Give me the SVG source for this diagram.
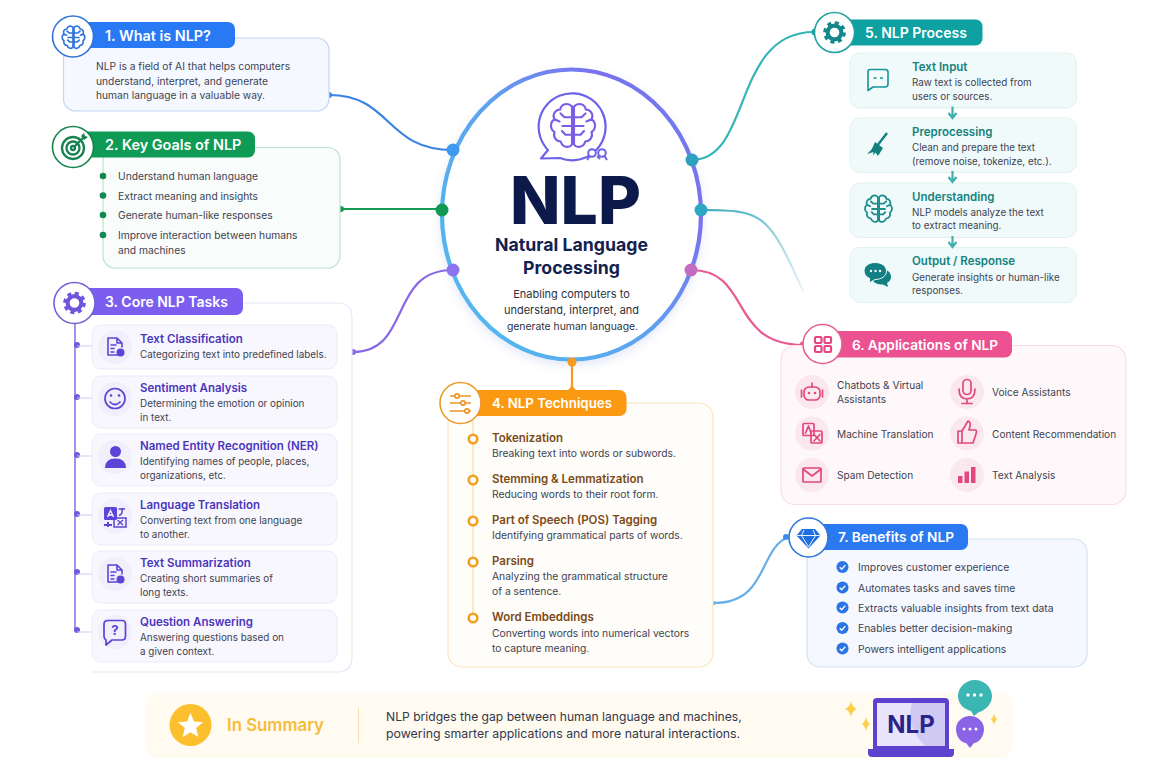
<svg xmlns="http://www.w3.org/2000/svg" width="1160" height="773" viewBox="0 0 1160 773">
<style>
text{font-family:"Inter","Noto Sans","Liberation Sans",sans-serif}
.b{font-size:10.250px;fill:#3d4352}
.h{font-size:14px;font-weight:600;fill:#fff}
.t3,.t4,.t5{font-size:11.500px;font-weight:600}
.t3{fill:#4a36bd}
.t4{fill:#7b4a17}
.t5{fill:#14827e}
.c{fill:#fff;stroke-width:1.600}
.sub3{fill:#f8f7fe;stroke:#eceaf8}
.sub5{fill:#f0fafa;stroke:#e0f1f0}
.ic6{fill:#fbe8ef}
.ic3{fill:#f1effb}
.conn{fill:none;stroke-width:2.200;stroke-linecap:round}
#node1 .h,#node2 .h{font-size:14.400px}
#node3 .b{font-size:9.900px}
#node4 .h{font-size:13.300px}
#node4 .b{font-size:10.300px}
#node5 .b{font-size:9.800px}
#node6 .b{font-size:10.150px}
#node6 .h,#node7 .h{font-size:13.700px}
#node7 .b{font-size:10.350px}
</style>
<defs>
<linearGradient id="ring" gradientUnits="userSpaceOnUse" x1="450" y1="270" x2="680" y2="110"><stop offset="0" stop-color="#52b6ee"/><stop offset="0.45" stop-color="#5fa2ef"/><stop offset="0.85" stop-color="#7a70ee"/><stop offset="1" stop-color="#6f7cec"/></linearGradient>
<linearGradient id="fade" gradientUnits="userSpaceOnUse" x1="701" y1="210" x2="803" y2="292"><stop offset="0" stop-color="#2fa6b8"/><stop offset="1" stop-color="#2fa6b8" stop-opacity="0.1"/></linearGradient>
<filter id="soft" x="-20%" y="-20%" width="140%" height="140%"><feDropShadow dx="0" dy="4" stdDeviation="5" flood-color="#5b6fd0" flood-opacity="0.16"/></filter>
<symbol id="brain" viewBox="0 0 24 24"><g fill="none" stroke="currentColor" stroke-linejoin="round" stroke-linecap="round"><path d="M11.600 4.200C10 2.400 7.200 3.200 6.900 5.400C4.800 5.400 3.600 7.600 4.600 9.300C2.700 10.500 2.800 13.300 4.600 14.400C3.900 16.400 5.300 18.200 7.100 18.200C7.700 20.600 10.600 21 11.600 19.400ZM11.600 8.500H8.600L7 7M11.600 12H7.800M4.600 9.300L6.600 10.200M11.600 15.500H9L7.600 14"/><path transform="matrix(-1 0 0 1 24 0)" d="M11.600 4.200C10 2.400 7.200 3.200 6.900 5.400C4.800 5.400 3.600 7.600 4.600 9.300C2.700 10.500 2.800 13.300 4.600 14.400C3.900 16.400 5.300 18.200 7.100 18.200C7.700 20.600 10.600 21 11.600 19.400ZM11.600 8.500H8.600L7 7M11.600 12H7.800M4.600 9.300L6.600 10.200M11.600 15.500H9L7.600 14"/></g></symbol>
<symbol id="gear" viewBox="0 0 24 24"><circle cx="12" cy="12" r="6.600" fill="none" stroke="currentColor" stroke-width="4"/><circle cx="12" cy="12" r="9.400" fill="none" stroke="currentColor" stroke-width="3" stroke-dasharray="3.900 3.480"/></symbol>
<symbol id="doc" viewBox="0 0 24 24"><g fill="none" stroke="currentColor" stroke-width="1.600" stroke-linejoin="round" stroke-linecap="round"><path d="M14 20H5V3H14L19 8V12M14 3V8H19M8 10H13M8 13.500H11M8 17H11"/></g><circle cx="17.500" cy="17.500" r="4" fill="currentColor"/></symbol>
<symbol id="chk" viewBox="0 0 14 14"><circle cx="7" cy="7" r="6.500" fill="#2a74e6"/><path d="M4 7.200L6.200 9.300L10 5" fill="none" stroke="#fff" stroke-width="1.500"/></symbol>
<symbol id="trans" viewBox="0 0 24 24"><rect x="1" y="2" width="13" height="13" rx="1.500" fill="currentColor"/><path d="M4.500 12L7.500 5.500L10.500 12M5.500 10H9.500" fill="none" stroke="#fff" stroke-width="1.300"/><path d="M15.500 4H22M19 3V7C19 9 17.500 10 16 10.500" fill="none" stroke="currentColor" stroke-width="1.500"/><rect x="11" y="13" width="12" height="9" fill="none" stroke="currentColor" stroke-width="1.500"/><path d="M14.500 15L20 20M20 15L14.500 20" stroke="currentColor" stroke-width="1.300"/><path d="M1 20H9M5 17V22" stroke="currentColor" stroke-width="2"/></symbol>
</defs>
<rect width="1160" height="773" fill="#ffffff"/>

<g id="connectors">
<path class="conn" stroke="#3a82e6" d="M329 95C392 95 385 150 453 150"/>
<path class="conn" stroke="#149a55" d="M340 209H442"/>
<path class="conn" stroke="#8a68ea" d="M353 352C412 352 388 270 453 270"/>
<path class="conn" stroke="#f79a1e" stroke-width="2.600" d="M572 362V390"/>
<path d="M566 391Q570 389 572 385Q574 389 578 391Z" fill="#f79a1e"/>
<path class="conn" stroke="#37b4b6" d="M692 160C752 160 732 32 814 32"/>
<path class="conn" stroke="url(#fade)" d="M701 210C762 210 768 212 803 291"/>
<path class="conn" stroke="#ea5b94" d="M691 270C752 270 728 345 803 345"/>
<path class="conn" stroke="#68aee8" d="M714 603C768 603 758 550 788 537"/>
<circle cx="329" cy="95" r="3" fill="#3a82e6"/><circle cx="341" cy="209" r="3" fill="#149a55"/><circle cx="353" cy="352" r="3" fill="#8a68ea"/><circle cx="714" cy="603" r="2" fill="#68aee8"/>
<circle cx="815" cy="32" r="3.500" fill="#1ea3a3"/><circle cx="803" cy="345" r="3.500" fill="#ea5b94"/><circle cx="786" cy="537" r="3" fill="#3f8be8"/>
</g>

<g id="center">
<ellipse cx="571.500" cy="214.500" rx="129.500" ry="145" fill="#fff" stroke="url(#ring)" stroke-width="4.200" filter="url(#soft)"/>
<circle cx="453" cy="150" r="6.500" fill="#3f9bee"/><circle cx="442" cy="210" r="6.500" fill="#129a52"/><circle cx="453" cy="270" r="6.500" fill="#8d73ee"/><circle cx="692" cy="160" r="6.500" fill="#2da2c0"/><circle cx="701" cy="210" r="6.500" fill="#2fa6c6"/><circle cx="691" cy="270" r="6.500" fill="#c36cc0"/><circle cx="572" cy="362" r="4.500" fill="#f79a1e"/>
<path d="M548 150L541 158.500L560 158A33.500 33.500 0 1 0 548 150Z" fill="#fff" stroke="#6d63e6" stroke-width="2.200" stroke-linejoin="round"/>
<use href="#brain" x="543" y="96" width="60" height="60" color="#7a5ce6" stroke-width="0.850"/>
<g fill="#fff" stroke="#6d63e6" stroke-width="2"><circle cx="592" cy="153" r="3.800"/><circle cx="602" cy="153" r="3.800"/><path d="M587 160L590 156M597 156L600 159M604.500 156L607 160" fill="none"/></g>
<text x="575.500" y="223.500" text-anchor="middle" style="font-size:66px;font-weight:800;fill:#0b1a4b">NLP</text>
<text x="571.500" y="251" text-anchor="middle" style="font-size:17.700px;font-weight:700;fill:#13214f">Natural Language</text>
<text x="571.500" y="274" text-anchor="middle" style="font-size:17.700px;font-weight:700;fill:#13214f">Processing</text>
<text x="571.500" y="298" text-anchor="middle" style="font-size:11px;fill:#2c3140">Enabling computers to</text>
<text x="571.500" y="314" text-anchor="middle" style="font-size:11px;fill:#2c3140">understand, interpret, and</text>
<text x="572.500" y="330" text-anchor="middle" style="font-size:10.400px;fill:#2c3140">generate human language.</text>
</g>

<g id="node1">
<rect x="63.500" y="38" width="265.500" height="73" rx="12" fill="#f5f8ff" stroke="#c5d5f5" stroke-width="1.200"/>
<rect x="80" y="22" width="155" height="26" rx="7" fill="#2979f5"/>
<circle class="c" cx="73" cy="36.500" r="20.500" stroke="#2f74d8"/>
<use href="#brain" x="58" y="22" width="31" height="31" color="#2f74d8" stroke-width="1.300"/>
<text class="h" x="105" y="41">1. What is NLP?</text>
<text class="b" x="96" y="70">NLP is a field of AI that helps computers</text>
<text class="b" x="96" y="84.500">understand, interpret, and generate</text>
<text class="b" x="96" y="99">human language in a valuable way.</text>
</g>

<g id="node2">
<rect x="103" y="147.500" width="237" height="120.500" rx="12" fill="#f8fcfa" stroke="#bde4cb" stroke-width="1.200"/>
<rect x="80" y="131.500" width="175" height="26" rx="7" fill="#0f9a55"/>
<circle class="c" cx="73" cy="147" r="20.500" stroke="#16834f"/>
<g fill="none" stroke="#16834f" stroke-width="2.300"><circle cx="73" cy="148" r="11"/><circle cx="73" cy="148" r="6.500"/><circle cx="73" cy="148" r="2"/><path d="M74 147L83 138"/></g>
<path d="M81 136L84 133L85 136L88 137L84 140Z" fill="#16834f"/>
<text class="h" x="105" y="150">2. Key Goals of NLP</text>
<g fill="#118a50"><circle cx="103" cy="176" r="3.300"/><circle cx="103" cy="195.500" r="3.300"/><circle cx="103" cy="215" r="3.300"/><circle cx="103" cy="235" r="3.300"/></g>
<text class="b" x="118" y="180">Understand human language</text>
<text class="b" x="118" y="199.500">Extract meaning and insights</text>
<text class="b" x="118" y="219">Generate human-like responses</text>
<text class="b" x="118" y="239">Improve interaction between humans</text>
<text class="b" x="118" y="254">and machines</text>
</g>

<g id="node3">
<path d="M235 303H337Q352 303 352 318V657Q352 672 337 672H92" fill="#fff" stroke="#e8e6f8" stroke-width="1.200"/>
<path d="M75 320V630" stroke="#9a87ec" stroke-width="1.800"/>
<rect x="80" y="288" width="163" height="27" rx="7" fill="#7b5ef0"/>
<circle class="c" cx="74.500" cy="303" r="20.500" stroke="#7660da"/>
<use href="#gear" x="62" y="290.500" width="25" height="25" color="#6f55dd"/>
<text class="h" x="105" y="306.500">3. Core NLP Tasks</text>
<g fill="#7159dc"><circle cx="77" cy="345" r="3"/><circle cx="77" cy="397" r="3"/><circle cx="77" cy="455" r="3"/><circle cx="77" cy="514" r="3"/><circle cx="77" cy="572" r="3"/><circle cx="77" cy="630" r="3"/></g>
<path d="M77 346H92M77 398H92M77 456H92M77 515H92M77 574H92M77 632H92" stroke="#cfc8f2"/>
<g stroke-width="1">
<rect class="sub3" x="92" y="325" width="245" height="44" rx="9"/>
<rect class="sub3" x="92" y="376" width="245" height="52" rx="9"/>
<rect class="sub3" x="92" y="434" width="245" height="52" rx="9"/>
<rect class="sub3" x="92" y="493" width="245" height="52" rx="9"/>
<rect class="sub3" x="92" y="551" width="245" height="52" rx="9"/>
<rect class="sub3" x="92" y="610" width="245" height="52" rx="9"/>
</g>
<g class="ic3"><circle cx="115" cy="347" r="17"/><circle cx="115" cy="399" r="17"/><circle cx="115" cy="457" r="17"/><circle cx="115" cy="516" r="17"/><circle cx="115" cy="574" r="17"/><circle cx="115" cy="632" r="17"/></g>
<use href="#doc" x="103" y="335" width="24" height="24" color="#5b45d6"/>
<g fill="none" stroke="#5b45d6" stroke-width="1.700" stroke-linecap="round"><circle cx="115" cy="398.500" r="10"/><path d="M110 402Q115 407 120 402"/></g><circle cx="111" cy="395.500" r="1.300" fill="#5b45d6"/><circle cx="119" cy="395.500" r="1.300" fill="#5b45d6"/>
<circle cx="115.500" cy="451.500" r="5.500" fill="#5b45d6"/><path d="M105 468Q105 458.500 115.500 458.500Q126 458.500 126 468Z" fill="#5b45d6"/>
<use href="#trans" x="103" y="505" width="24" height="24" color="#5b45d6"/>
<use href="#doc" x="103" y="562" width="24" height="24" color="#5b45d6"/>
<path d="M108 620.500H122Q125.500 620.500 125.500 624V636Q125.500 640 122 640H112L106 645V640Q104 639 104 636V624Q104 620.500 108 620.500Z" fill="none" stroke="#5b45d6" stroke-width="1.700" stroke-linejoin="round"/>
<text x="115" y="634.500" text-anchor="middle" style="font-size:13px;font-weight:700;fill:#5b45d6">?</text>
<text class="t3" x="140" y="343">Text Classification</text><text class="b" x="140" y="358">Categorizing text into predefined labels.</text>
<text class="t3" x="140" y="392">Sentiment Analysis</text><text class="b" x="140" y="407">Determining the emotion or opinion</text><text class="b" x="140" y="421">in text.</text>
<text class="t3" x="140" y="450">Named Entity Recognition (NER)</text><text class="b" x="140" y="465">Identifying names of people, places,</text><text class="b" x="140" y="479">organizations, etc.</text>
<text class="t3" x="140" y="509">Language Translation</text><text class="b" x="140" y="524">Converting text from one language</text><text class="b" x="140" y="538">to another.</text>
<text class="t3" x="140" y="567">Text Summarization</text><text class="b" x="140" y="582">Creating short summaries of</text><text class="b" x="140" y="596">long texts.</text>
<text class="t3" x="140" y="626">Question Answering</text><text class="b" x="140" y="641">Answering questions based on</text><text class="b" x="140" y="655">a given context.</text>
</g>

<g id="node4">
<rect x="448" y="403" width="265" height="264" rx="14" fill="#fffdf9" stroke="#fbe4bd" stroke-width="1.200"/>
<path d="M473 420V615" stroke="#fbe2b4" stroke-width="1.500"/>
<rect x="470" y="390" width="156.500" height="26" rx="7" fill="#fb9a12"/>
<circle class="c" cx="460.500" cy="403" r="20.500" stroke="#ee9a26"/>
<g fill="none" stroke="#ee9424" stroke-width="1.700"><path d="M450 396H471M450 403H471M450 411H471"/><circle cx="457" cy="396" r="2.200" fill="#fff"/><circle cx="463" cy="403" r="2.200" fill="#fff"/><circle cx="467" cy="411" r="2.200" fill="#fff"/></g>
<text class="h" x="492" y="408">4. NLP Techniques</text>
<g fill="#fff" stroke="#f4a01e" stroke-width="2.600"><circle cx="473" cy="439" r="4.300"/><circle cx="473" cy="480" r="4.300"/><circle cx="473" cy="521" r="4.300"/><circle cx="473" cy="562" r="4.300"/><circle cx="473" cy="618" r="4.300"/></g>
<text class="t4" x="492" y="441.500">Tokenization</text><text class="b" x="492" y="457">Breaking text into words or subwords.</text>
<text class="t4" x="492" y="483">Stemming &amp; Lemmatization</text><text class="b" x="492" y="498">Reducing words to their root form.</text>
<text class="t4" x="492" y="524">Part of Speech (POS) Tagging</text><text class="b" x="492" y="539">Identifying grammatical parts of words.</text>
<text class="t4" x="492" y="565">Parsing</text><text class="b" x="492" y="580">Analyzing the grammatical structure</text><text class="b" x="492" y="595">of a sentence.</text>
<text class="t4" x="492" y="621">Word Embeddings</text><text class="b" x="492" y="636.500">Converting words into numerical vectors</text><text class="b" x="492" y="652">to capture meaning.</text>
</g>

<g id="node5">
<rect x="840" y="19.500" width="142.500" height="26" rx="7" fill="#0fa0a2"/>
<circle class="c" cx="834.500" cy="32.500" r="20" stroke="#22a3a3"/>
<use href="#gear" x="822" y="20" width="25" height="25" color="#13878a"/>
<text class="h" x="865" y="37.500">5. NLP Process</text>
<g stroke-width="1"><rect class="sub5" x="850" y="53" width="226.500" height="55" rx="10"/><rect class="sub5" x="850" y="118" width="226.500" height="54.500" rx="10"/><rect class="sub5" x="850" y="183" width="226.500" height="54.500" rx="10"/><rect class="sub5" x="850" y="247.500" width="226.500" height="55" rx="10"/></g>
<path d="M952.500 106.500V116M948.500 113L952.500 118L956.500 113M952.500 171V181M948.500 177L952.500 182L956.500 177M952.500 236V245M948.500 242L952.500 247L956.500 242" fill="none" stroke="#3eb0aa" stroke-width="2.200"/>
<path d="M870 69.500H885Q888 69.500 888 72V84Q888 87 885 87H873L868 90.500V72Q868 69.500 870 69.500Z" fill="#f2fbfa" stroke="#14969a" stroke-width="1.600" stroke-linejoin="round"/><path d="M873.500 78H876.500M880 78H883" stroke="#14969a" stroke-width="1.600"/>
<path d="M887 133L877 146" stroke="#12807f" stroke-width="2.400"/><path d="M875 142L883 148L878 156L875.500 152.500L873 155.500L873.500 152L867 154L871.500 149.500Q873.500 146 875 142Z" fill="#12807f"/>
<use href="#brain" x="860" y="190.500" width="37" height="37" color="#1a8d8d" stroke-width="1.150"/>
<path d="M881 269C887 269 891 272 891 277C891 280 889 282 887 283L888 287L883 284.500C877 285 871 281 871 277C871 272 875 269 881 269Z" fill="#127f82"/>
<path d="M875 262.500C881.500 262.500 886.500 266 886.500 271C886.500 276 881.500 279.500 875 279.500L869 283L869.800 278.500C866 277 864 274 864 271C864 266 869 262.500 875 262.500Z" fill="#127f82" stroke="#f0fafa" stroke-width="1"/>
<g fill="#fff"><circle cx="871" cy="271" r="1.200"/><circle cx="875.500" cy="271" r="1.200"/><circle cx="880" cy="271" r="1.200"/></g>
<text class="t5" x="912" y="71">Text Input</text><text class="b" x="912" y="86">Raw text is collected from</text><text class="b" x="912" y="100">users or sources.</text>
<text class="t5" x="912" y="136">Preprocessing</text><text class="b" x="912" y="151">Clean and prepare the text</text><text class="b" x="912" y="164.500">(remove noise, tokenize, etc.).</text>
<text class="t5" x="912" y="200.500">Understanding</text><text class="b" x="912" y="215.500">NLP models analyze the text</text><text class="b" x="912" y="229">to extract meaning.</text>
<text class="t5" x="912" y="265">Output / Response</text><text class="b" x="912" y="280.500">Generate insights or human-like</text><text class="b" x="912" y="294">responses.</text>
</g>

<g id="node6">
<rect x="781" y="345.500" width="345" height="159" rx="14" fill="#fff8fa" stroke="#fbdce8" stroke-width="1.200"/>
<rect x="830" y="331" width="182" height="26.500" rx="7" fill="#ec5291"/>
<circle class="c" cx="822.500" cy="344" r="19.500" stroke="#e45f93"/>
<g fill="none" stroke="#e2477f" stroke-width="2.200"><rect x="815" y="337" width="6.500" height="6" rx="1"/><rect x="824.500" y="337" width="6.500" height="6" rx="1"/><rect x="815" y="346" width="6.500" height="6" rx="1"/><rect x="824.500" y="346" width="6.500" height="6" rx="1"/></g>
<text class="h" x="852" y="349.500">6. Applications of NLP</text>
<g class="ic6"><circle cx="812" cy="392" r="17"/><circle cx="967" cy="392" r="17"/><circle cx="812" cy="433.500" r="17"/><circle cx="967" cy="433.500" r="17"/><circle cx="812" cy="475" r="17"/><circle cx="967" cy="475" r="17"/></g>
<g fill="none" stroke="#e2477f" stroke-width="1.700" stroke-linejoin="round" stroke-linecap="round">
<rect x="804" y="387" width="16" height="13" rx="5"/><path d="M812 387V383M801.500 390V397M822.500 390V397"/>
<rect x="963" y="379.500" width="8" height="15" rx="4"/><path d="M959 389Q959 399 967 399Q975 399 975 389M967 399V403M962 403.500H972"/>
<rect x="803" y="423.500" width="11" height="12" rx="1"/><rect x="811" y="431" width="11" height="12" rx="1"/><path d="M805.500 433L808.500 426L811 433M814 434.500L820 441M820 434.500L814 441"/>
<path d="M958 431H962V443H958ZM962 431L968 421Q971 422 970 426L969 430H976Q977 431 976 434L973 443H962"/>
<rect x="803" y="468" width="18" height="14" rx="1"/><path d="M803 469L812 476L821 469"/>
</g>
<g fill="#e2477f"><circle cx="809" cy="393" r="1.300"/><circle cx="815" cy="393" r="1.300"/><rect x="958" y="476" width="4.500" height="7"/><rect x="964.500" y="471.500" width="4.500" height="11.500"/><rect x="971" y="467" width="4.500" height="16"/></g>
<text class="b" x="837" y="389">Chatbots &amp; Virtual</text><text class="b" x="837" y="403">Assistants</text>
<text class="b" x="992" y="396">Voice Assistants</text>
<text class="b" x="837" y="437.500">Machine Translation</text>
<text class="b" x="992" y="437.500">Content Recommendation</text>
<text class="b" x="837" y="479">Spam Detection</text>
<text class="b" x="992" y="479">Text Analysis</text>
</g>

<g id="node7">
<rect x="807" y="539" width="280" height="128" rx="13" fill="#f5f9ff" stroke="#d4e3f6" stroke-width="1.200"/>
<rect x="815" y="524" width="153" height="26" rx="7" fill="#2b79f0"/>
<circle class="c" cx="808.500" cy="537.500" r="19.500" stroke="#2f78d8"/>
<path d="M802 529H815L820.500 535.500L808.500 548.500L796.500 535.500Z" fill="#1f6fe0"/><path d="M797 535.500H820M804 530L801.500 535.500L808.500 547L815.500 535.500L813 530" fill="none" stroke="#fff" stroke-width="0.900"/>
<text class="h" x="838" y="542">7. Benefits of NLP</text>
<use href="#chk" x="836" y="560.500" width="13" height="13"/><use href="#chk" x="836" y="581" width="13" height="13"/><use href="#chk" x="836" y="601" width="13" height="13"/><use href="#chk" x="836" y="621.500" width="13" height="13"/><use href="#chk" x="836" y="642" width="13" height="13"/>
<text class="b" x="858" y="571">Improves customer experience</text>
<text class="b" x="858" y="591.500">Automates tasks and saves time</text>
<text class="b" x="858" y="612">Extracts valuable insights from text data</text>
<text class="b" x="858" y="632">Enables better decision-making</text>
<text class="b" x="858" y="652.500">Powers intelligent applications</text>
</g>

<g id="summary">
<rect x="146" y="693" width="867" height="65" rx="12" fill="#fffbf1"/>
<circle cx="190.500" cy="725" r="21" fill="#fcc02e"/>
<path d="M190.500 713L194 721.500L203 722.300L196.200 728L198.300 737L190.500 732.300L182.700 737L184.800 728L178 722.300L187 721.500Z" fill="#fff"/>
<text x="227" y="731" style="font-size:16.800px;font-weight:600;fill:#f7bb3a">In Summary</text>
<path d="M358.500 708V743" stroke="#f5dfae"/>
<text x="386" y="721" style="font-size:12.130px;fill:#33384a">NLP bridges the gap between human language and machines,</text>
<text x="386" y="738" style="font-size:12.350px;fill:#33384a">powering smarter applications and more natural interactions.</text>
<path d="M873 702Q873 698 877 698H945Q949 698 949 702V749H873Z" fill="#5c42cf"/>
<rect x="877" y="703" width="68" height="43" fill="#e7e4fb"/>
<path d="M912 703H945V746H925Q905 725 912 703Z" fill="#cfc9f4"/>
<path d="M868 749H954V753Q954 757 950 757H872Q868 757 868 753Z" fill="#5c42cf"/>
<text x="911" y="733" text-anchor="middle" style="font-size:24px;font-weight:700;fill:#2b228a">NLP</text>
<path d="M975 680C985 680 992 688 992 696C992 705 984 711 979 712L974 716L971 711C963 709 958 703 958 696C958 688 965 680 975 680Z" fill="#3cb6b3"/>
<path d="M970 716C978 716 984 722 984 729C984 737 978 743 974 743L970 748L966 743C960 742 956 736 956 729C956 722 962 716 970 716Z" fill="#8b63e6"/>
<g fill="#fff"><circle cx="968" cy="695" r="1.700"/><circle cx="974.500" cy="695" r="1.700"/><circle cx="981" cy="695" r="1.700"/><circle cx="964" cy="729" r="1.500"/><circle cx="970" cy="729" r="1.500"/><circle cx="976" cy="729" r="1.500"/></g>
<g fill="#fbcf4a"><path d="M851 701Q852 707 857 709Q852 711 851 717Q850 711 845 709Q850 707 851 701Z"/><path d="M866 717Q867 722 870 724Q867 726 866 731Q865 726 862 724Q865 722 866 717Z"/><path d="M994 714Q995 718 997 719.500Q995 721 994 725Q993 721 991 719.500Q993 718 994 714Z"/></g>
</g>
</svg>
